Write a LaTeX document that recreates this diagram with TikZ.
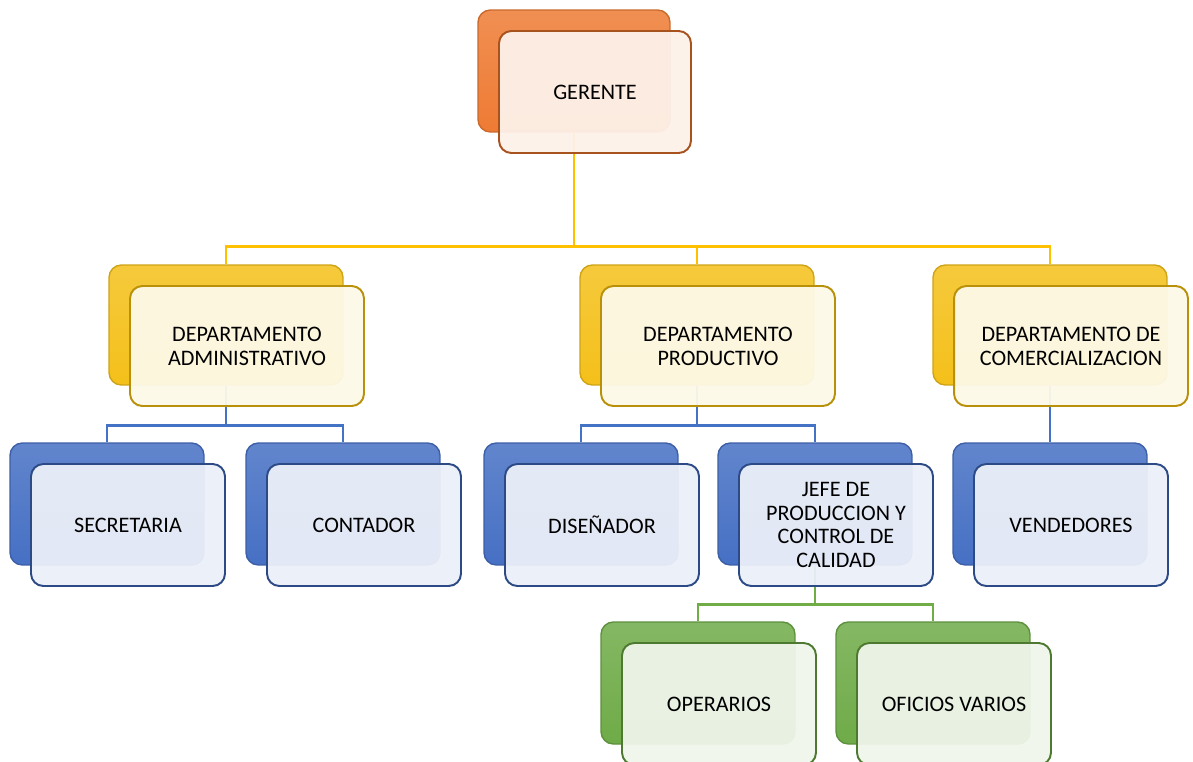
\documentclass[tikz,border=0pt]{standalone}
\usepackage{fontspec}
\setmainfont{Carlito}
\usetikzlibrary{positioning, calc}
\definecolor{orgback}{HTML}{EE7B34}
\definecolor{orgline}{HTML}{A8521E}
\definecolor{orgfront}{HTML}{FDF1E9}
\definecolor{yelback}{HTML}{F4C01A}
\definecolor{yelline}{HTML}{B8900A}
\definecolor{yelfront}{HTML}{FDF9E8}
\definecolor{yelconn}{HTML}{FFC000}
\definecolor{bluback}{HTML}{4670C4}
\definecolor{bluline}{HTML}{2C4A86}
\definecolor{blufront}{HTML}{EBEFF8}
\definecolor{bluconn}{HTML}{4472C4}
\definecolor{grnback}{HTML}{6FAB48}
\definecolor{grnline}{HTML}{4D7A30}
\definecolor{grnfront}{HTML}{EFF5EA}
\definecolor{grnconn}{HTML}{70AD47}

\begin{document}
\begin{tikzpicture}[
  x=0.02cm, y=-0.02cm,
  back/.style={
    rectangle, rounded corners=7pt, draw=#1!85!black, line width=0.8pt,
    top color=#1!85!white, bottom color=#1, inner sep=0pt
  },
  front/.style={
    rectangle, rounded corners=7pt, draw=#1, line width=1.1pt,
    fill=white, fill opacity=0.95, text opacity=1, inner sep=2pt,
    align=center, font=\fontsize{12.6}{13.6}\selectfont
  },
  boss/.style={minimum width=3.84cm, minimum height=2.44cm},
  dept/.style={minimum width=4.68cm, minimum height=2.40cm},
  staff/.style={minimum width=3.88cm, minimum height=2.44cm},
  conn/.style={line width=1.6pt},
]
\useasboundingbox (0,0) rectangle (1193,761);

% Back cards
\node[back=orgback, boss] (gb) at (574,71) {};
\node[back=yelback, dept] (adb) at (226,325) {};
\node[back=yelback, dept] (prb) at (697,325) {};
\node[back=yelback, dept] (cob) at (1050,325) {};
\node[back=bluback, staff] (seb) at (107,504) {};
\node[back=bluback, staff] (ctb) at (343,504) {};
\node[back=bluback, staff] (dib) at (581,504) {};
\node[back=bluback, staff] (jeb) at (815,504) {};
\node[back=bluback, staff] (veb) at (1050,504) {};
\node[back=grnback, staff] (opb) at (698,683) {};
\node[back=grnback, staff] (ofb) at (933,683) {};

% Connectors
\draw[conn, yelconn] (gb.south) -- ++(0,114) coordinate (gj);
\draw[conn, yelconn] (adb.north) |- (gj) -| (cob.north);
\draw[conn, yelconn] (gj) -| (prb.north);
\draw[conn, bluconn] (adb.south) -- ++(0,40) coordinate (aj);
\draw[conn, bluconn] (seb.north) |- (aj) -| (ctb.north);
\draw[conn, bluconn] (prb.south) -- ++(0,40) coordinate (pj);
\draw[conn, bluconn] (dib.north) |- (pj) -| (jeb.north);
\draw[conn, bluconn] (cob.south) -- (veb.north);
\draw[conn, grnconn] (jeb.south) -- ++(0,39) coordinate (jj);
\draw[conn, grnconn] (opb.north) |- (jj) -| (ofb.north);

% Front cards
\node[front=orgline, boss, fill=orgfront] (gf) at ($(gb)+(21,21)$) {GERENTE};
\node[front=yelline, dept, fill=yelfront] (adf) at ($(adb)+(21,21)$)
  {DEPARTAMENTO\\ADMINISTRATIVO};
\node[front=yelline, dept, fill=yelfront] (prf) at ($(prb)+(21,21)$)
  {DEPARTAMENTO\\PRODUCTIVO};
\node[front=yelline, dept, fill=yelfront] (cof) at ($(cob)+(21,21)$)
  {DEPARTAMENTO DE\\COMERCIALIZACION};
\node[front=bluline, staff, fill=blufront] (sef) at ($(seb)+(21,21)$) {SECRETARIA};
\node[front=bluline, staff, fill=blufront] (ctf) at ($(ctb)+(21,21)$) {CONTADOR};
\node[front=bluline, staff, fill=blufront] (dif) at ($(dib)+(21,21)$) {DISEÑADOR};
\node[front=bluline, staff, fill=blufront] (jef) at ($(jeb)+(21,21)$)
  {JEFE DE\\PRODUCCION Y\\CONTROL DE\\CALIDAD};
\node[front=bluline, staff, fill=blufront] (vef) at ($(veb)+(21,21)$) {VENDEDORES};
\node[front=grnline, staff, fill=grnfront] (opf) at ($(opb)+(21,21)$) {OPERARIOS};
\node[front=grnline, staff, fill=grnfront] (off) at ($(ofb)+(21,21)$) {OFICIOS VARIOS};

\end{tikzpicture}
\end{document}
